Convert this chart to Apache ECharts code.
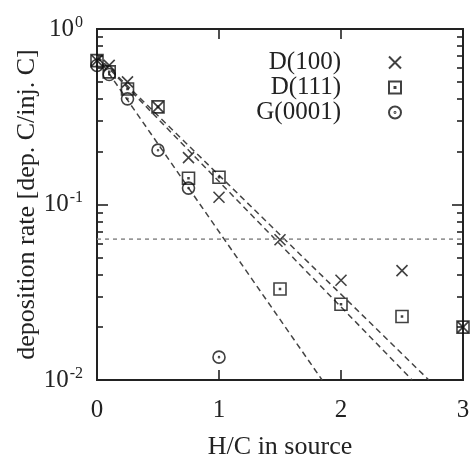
<!DOCTYPE html>
<html>
<head>
<meta charset="utf-8">
<script src="https://cdn.jsdelivr.net/npm/echarts@6/dist/echarts.min.js"></script>
<style>
html,body{margin:0;padding:0;background:#fff;}
#main{width:473px;height:456px;}
</style>
</head>
<body>
<div id="main"></div>
<script>
// H/C ratio in source
var hc = [0, 0.1, 0.25, 0.5, 0.75, 1.0, 1.5, 2.0, 2.5, 3.0];
var hcG = [0, 0.1, 0.25, 0.5, 0.75, 1.0];
// deposition rates
var d100 = [0.66, 0.62, 0.50, 0.36, 0.185, 0.110, 0.063, 0.037, 0.042, 0.020];
var d111 = [0.66, 0.57, 0.455, 0.36, 0.141, 0.143, 0.033, 0.027, 0.023, 0.020];
var g0001 = [0.62, 0.55, 0.40, 0.204, 0.124, 0.0135];
// dashed fit lines (start and end)
var fitG = [[0, 0.70], [1.845, 0.01]];
var fit111 = [[0, 0.70], [2.583, 0.01]];
var fit100 = [[0, 0.70], [2.72, 0.01]];
var threshold = 0.0635;
var yMajor = [0.01, 0.1, 1];
var yMinor = [0.02, 0.03, 0.04, 0.05, 0.06, 0.07, 0.08, 0.09, 0.2, 0.3, 0.4, 0.5, 0.6, 0.7, 0.8, 0.9];

function pairs(xs, ys) {
	var out = [];
	for (var i = 0; i < ys.length; i++) out.push([xs[i], ys[i]]);
	return out;
}

var crossPath = 'path://M0,0L10,10M10,0L0,10';
var squarePath = 'path://M0,0H10V10H0Z M4.6,4.6H5.4V5.4H4.6Z';
var circlePath = 'path://M0,5A5,5,0,1,1,10,5A5,5,0,1,1,0,5Z M4.6,5A0.4,0.4,0,1,1,5.4,5A0.4,0.4,0,1,1,4.6,5Z';

var markStyle = {color: 'rgba(0,0,0,0)', borderColor: '#111', borderWidth: 1.6};
var font = 'Liberation Serif';

function yAxisDef(pos, labels, ticks, len) {
	return {
		type: 'log', position: pos, min: 0.01, max: 1, logBase: 10,
		axisLine: {show: true, lineStyle: {color: '#222', width: 2}},
		axisTick: {show: true, inside: true, length: len, customValues: ticks, lineStyle: {color: '#222', width: 1.6}},
		axisLabel: labels ? {
			show: true, margin: 14, customValues: yMajor,
			formatter: function (v) {
				return '{b|10}{s|' + Math.round(Math.log10(v)) + '}';
			},
			rich: {
				b: {fontFamily: font, fontSize: 25, color: '#222'},
				s: {fontFamily: font, fontSize: 16, color: '#222', padding: [0, 0, 13, 1]}
			}
		} : {show: false},
		splitLine: {show: false}
	};
}

function xAxisDef(pos, labels) {
	return {
		type: 'value', position: pos, min: 0, max: 3, interval: 1,
		axisLine: {show: true, onZero: false, lineStyle: {color: '#222', width: 2}},
		axisTick: {show: true, inside: true, length: 10, lineStyle: {color: '#222', width: 1.6}},
		axisLabel: labels ? {show: true, margin: 18, fontFamily: font, fontSize: 25, color: '#222'} : {show: false},
		splitLine: {show: false}
	};
}

var myChart = echarts.init(document.getElementById('main'));

var xTop = xAxisDef('top', false);
var xBottom = xAxisDef('bottom', true);
xBottom.name = 'H/C in source';
xBottom.nameLocation = 'middle';
xBottom.nameGap = 54;
xBottom.nameMoveOverlap = false;
xBottom.nameTextStyle = {fontFamily: font, fontSize: 26, color: '#222'};

var yLeft = yAxisDef('left', true, yMajor, 11);
yLeft.name = 'deposition rate [dep. C/inj. C]';
yLeft.nameLocation = 'middle';
yLeft.nameGap = 57;
yLeft.nameMoveOverlap = false;
yLeft.nameTextStyle = {fontFamily: font, fontSize: 26, color: '#222'};

var dashed = function (d) {
	return {
		type: 'line', data: d, symbol: 'none', silent: true, z: 1,
		lineStyle: {color: '#444', width: 1.5, type: [6, 4]}
	};
};

option = {
	animation: false,
	backgroundColor: '#fff',
	grid: {left: 97, right: 10, top: 29, bottom: 76, containLabel: false, outerBoundsMode: 'none'},
	legend: {
		orient: 'vertical', align: 'right', right: 66, top: 45,
		itemWidth: 12, itemHeight: 12, itemGap: 0,
		textStyle: {fontFamily: font, fontSize: 25, color: '#222', lineHeight: 24, padding: [0, 43, 0, 0]},
		data: ['D(100)', 'D(111)', 'G(0001)']
	},
	xAxis: [xBottom, xTop],
	yAxis: [yLeft, yAxisDef('left', false, yMinor, 6), yAxisDef('right', false, yMajor, 11), yAxisDef('right', false, yMinor, 6)],
	series: [
		dashed(fitG), dashed(fit111), dashed(fit100),
		{
			type: 'line', data: [[0, threshold], [3, threshold]], symbol: 'none', silent: true, z: 1,
			lineStyle: {color: '#888', width: 1.5, type: [4, 4]}
		},
		{name: 'D(100)', type: 'scatter', data: pairs(hc, d100), symbol: crossPath, symbolSize: 11, itemStyle: markStyle, z: 3},
		{name: 'D(111)', type: 'scatter', data: pairs(hc, d111), symbol: squarePath, symbolSize: 12, itemStyle: markStyle, z: 3},
		{name: 'G(0001)', type: 'scatter', data: pairs(hcG, g0001), symbol: circlePath, symbolSize: 12, itemStyle: markStyle, z: 3}
	]
};
myChart.setOption(option);
</script>
</body>
</html>
